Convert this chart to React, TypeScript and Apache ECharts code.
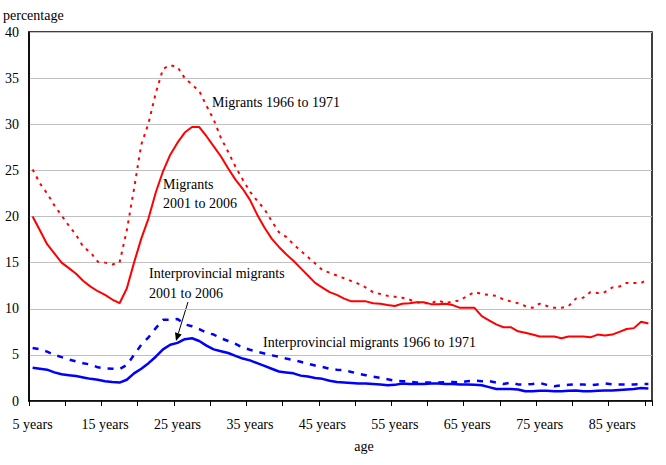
import React, { useEffect, useRef } from "react";
import * as echarts from "echarts";

// Ages 5 to 90, one category per year of age
const ages: number[] = [];
for (let a = 5; a <= 90; a++) ages.push(a);

const yTicks = [0, 5, 10, 15, 20, 25, 30, 35, 40];

// Migrants 2001 to 2006 (percentage)
const migrants2001 = [
  20.0, 18.5, 17.0, 16.0, 15.0, 14.4, 13.8, 13.0, 12.4, 11.9,
  11.5, 11.0, 10.6, 12.2, 15.0, 17.6, 19.8, 22.6, 24.9, 26.7,
  28.0, 29.1, 29.7, 29.7, 28.7, 27.6, 26.5, 25.2, 24.0, 23.0,
  21.8, 20.2, 18.8, 17.6, 16.7, 15.9, 15.2, 14.4, 13.6, 12.8,
  12.3, 11.8, 11.5, 11.1, 10.8, 10.8, 10.8, 10.6, 10.55, 10.4,
  10.3, 10.55, 10.6, 10.7, 10.7, 10.5, 10.5, 10.55, 10.4, 10.1,
  10.1, 10.1, 9.2, 8.75, 8.3, 8.0, 8.0, 7.55, 7.4, 7.2,
  7.0, 7.0, 7.0, 6.8, 7.0, 7.0, 7.0, 6.9, 7.2, 7.1,
  7.2, 7.5, 7.8, 7.9, 8.6, 8.4,
];

// Migrants 1966 to 1971 (percentage)
const migrants1966 = [
  25.1, 23.6, 22.5, 21.2, 20.1, 19.0, 18.0, 16.7, 16.1, 15.1,
  15.0, 14.8, 15.0, 18.5, 23.0, 27.8, 30.1, 33.4, 36.0, 36.4,
  36.2, 35.0, 34.3, 33.6, 32.0, 30.5, 28.5, 27.0, 25.4, 24.0,
  22.7, 21.7, 20.8, 19.5, 18.3, 17.8, 17.0, 16.3, 15.6, 14.9,
  14.2, 13.9, 13.6, 13.3, 13.0, 12.7, 12.3, 11.8, 11.6, 11.4,
  11.3, 11.2, 11.0, 10.7, 10.6, 10.6, 10.9, 10.6, 10.8, 10.9,
  11.4, 11.8, 11.6, 11.5, 11.4, 11.0, 10.8, 10.6, 10.3, 10.1,
  10.55, 10.3, 10.1, 10.1, 10.3, 11.1, 11.2, 11.8, 11.7, 11.8,
  12.3, 12.4, 12.8, 12.8, 12.8, 13.2,
];

// Interprovincial migrants 2001 to 2006 (percentage)
const interprov2001 = [
  3.6, 3.5, 3.4, 3.1, 2.9, 2.8, 2.7, 2.55, 2.4, 2.3,
  2.15, 2.05, 2.0, 2.3, 3.0, 3.5, 4.1, 4.8, 5.6, 6.1,
  6.3, 6.7, 6.8, 6.5, 6.0, 5.6, 5.4, 5.2, 4.9, 4.6,
  4.4, 4.1, 3.8, 3.5, 3.2, 3.1, 3.0, 2.75, 2.65, 2.5,
  2.4, 2.2, 2.05, 2.0, 1.95, 1.9, 1.9, 1.85, 1.8, 1.7,
  1.75, 1.9, 1.85, 1.85, 1.85, 1.9, 1.9, 1.85, 1.85, 1.8,
  1.8, 1.75, 1.7, 1.5, 1.3, 1.3, 1.3, 1.25, 1.05, 1.05,
  1.1, 1.1, 1.05, 1.05, 1.1, 1.15, 1.05, 1.05, 1.1, 1.15,
  1.15, 1.2, 1.25, 1.3, 1.4, 1.35,
];

// Interprovincial migrants 1966 to 1971 (percentage)
const interprov1966 = [
  5.75, 5.6, 5.35, 5.0, 4.75, 4.5, 4.3, 4.1, 3.95, 3.65,
  3.55, 3.5, 3.45, 3.9, 5.0, 6.1, 6.9, 7.9, 8.8, 8.8,
  8.9, 8.3, 8.1, 7.8, 7.4, 7.2, 6.8, 6.5, 6.2, 5.8,
  5.55, 5.35, 5.15, 4.95, 4.8, 4.6, 4.45, 4.25, 4.05, 3.85,
  3.7, 3.5, 3.4, 3.35, 3.15, 2.95, 2.8, 2.65, 2.5, 2.35,
  2.2, 2.15, 2.1, 2.0, 2.0, 2.0, 2.0, 2.05, 2.05, 2.0,
  2.15, 2.2, 2.15, 2.15, 2.0, 1.85, 2.0, 1.8, 1.8, 1.85,
  1.95, 1.75, 1.6, 1.7, 1.75, 1.8, 1.8, 1.7, 1.8, 1.9,
  1.8, 1.8, 1.8, 1.8, 1.85, 1.85,
];

const FONT = '"Liberation Serif", "Times New Roman", serif';
const FONT_SIZE = 14;
const RED = "#ff0000";
const BLUE = "#0000ff";

const textEl = (text: string, x: number, y: number) => ({
  type: "text",
  x,
  y,
  style: {
    text,
    fill: "#000",
    font: `${FONT_SIZE}px ${FONT}`,
    textVerticalAlign: "middle",
    textAlign: "left",
  },
});

export default function App() {
  const ref = useRef<HTMLDivElement>(null);

  useEffect(() => {
    if (!ref.current) return;
    const chart = echarts.init(ref.current, null, { renderer: "svg" });

    // arrow pointing at the interprovincial 2001 to 2006 curve
    const tipX = 176;
    const tipY = 341;
    const startX = 188;
    const startY = 302;
    const dx = tipX - startX;
    const dy = tipY - startY;
    const len = Math.hypot(dx, dy);
    const ux = dx / len;
    const uy = dy / len;
    const bx = tipX - ux * 8;
    const by = tipY - uy * 8;
    const px = -uy;
    const py = ux;

    chart.setOption({
      animation: false,
      backgroundColor: "#fff",
      grid: {
        left: 29,
        top: 32,
        width: 623,
        height: 369,
        show: true,
        borderColor: "#000",
        borderWidth: 1.5,
        backgroundColor: "transparent",
      },
      xAxis: {
        type: "category",
        data: ages,
        boundaryGap: true,
        axisLine: { show: true, lineStyle: { color: "#000", width: 1.5 } },
        axisTick: { show: true, interval: 4, length: 5, lineStyle: { color: "#000", width: 1 } },
        axisLabel: {
          interval: 9,
          margin: 16,
          color: "#000",
          fontFamily: FONT,
          fontSize: FONT_SIZE,
          formatter: (v: string) => `${v} years`,
        },
        splitLine: { show: false },
      },
      yAxis: {
        type: "value",
        min: yTicks[0],
        max: yTicks[yTicks.length - 1],
        interval: yTicks[1] - yTicks[0],
        axisLine: { show: true, lineStyle: { color: "#000", width: 1.5 } },
        axisTick: { show: false },
        axisLabel: { margin: 10, color: "#000", fontFamily: FONT, fontSize: FONT_SIZE },
        splitLine: { show: true, lineStyle: { color: "#c0c0c0", width: 1 } },
      },
      series: [
        {
          name: "Migrants 1966 to 1971",
          type: "line",
          data: migrants1966,
          showSymbol: false,
          lineStyle: { color: RED, width: 2, type: [3, 5] },
        },
        {
          name: "Migrants 2001 to 2006",
          type: "line",
          data: migrants2001,
          showSymbol: false,
          lineStyle: { color: RED, width: 2 },
        },
        {
          name: "Interprovincial migrants 1966 to 1971",
          type: "line",
          data: interprov1966,
          showSymbol: false,
          lineStyle: { color: BLUE, width: 2.5, type: [6, 7] },
        },
        {
          name: "Interprovincial migrants 2001 to 2006",
          type: "line",
          data: interprov2001,
          showSymbol: false,
          lineStyle: { color: BLUE, width: 2.5 },
        },
      ],
      graphic: [
        textEl("percentage", 3, 15),
        {
          type: "text",
          x: 364,
          y: 446,
          style: {
            text: "age",
            fill: "#000",
            font: `${FONT_SIZE}px ${FONT}`,
            textAlign: "center",
            textVerticalAlign: "middle",
          },
        },
        textEl("Migrants 1966 to 1971", 212, 102),
        textEl("Migrants", 163, 184),
        textEl("2001 to 2006", 163, 203),
        textEl("Interprovincial migrants", 149, 273),
        textEl("2001 to 2006", 149, 293),
        textEl("Interprovincial migrants 1966 to 1971", 263, 342),
        {
          type: "line",
          shape: { x1: startX, y1: startY, x2: bx, y2: by },
          style: { stroke: "#000", lineWidth: 1 },
        },
        {
          type: "polygon",
          shape: {
            points: [
              [tipX, tipY],
              [bx + px * 3.5, by + py * 3.5],
              [bx - px * 3.5, by - py * 3.5],
            ],
          },
          style: { fill: "#000" },
        },
      ],
    });

    return () => chart.dispose();
  }, []);

  return (
    <div
      ref={ref}
      style={{ position: "fixed", left: 0, top: 0, width: 666, height: 465, background: "#fff" }}
    />
  );
}
